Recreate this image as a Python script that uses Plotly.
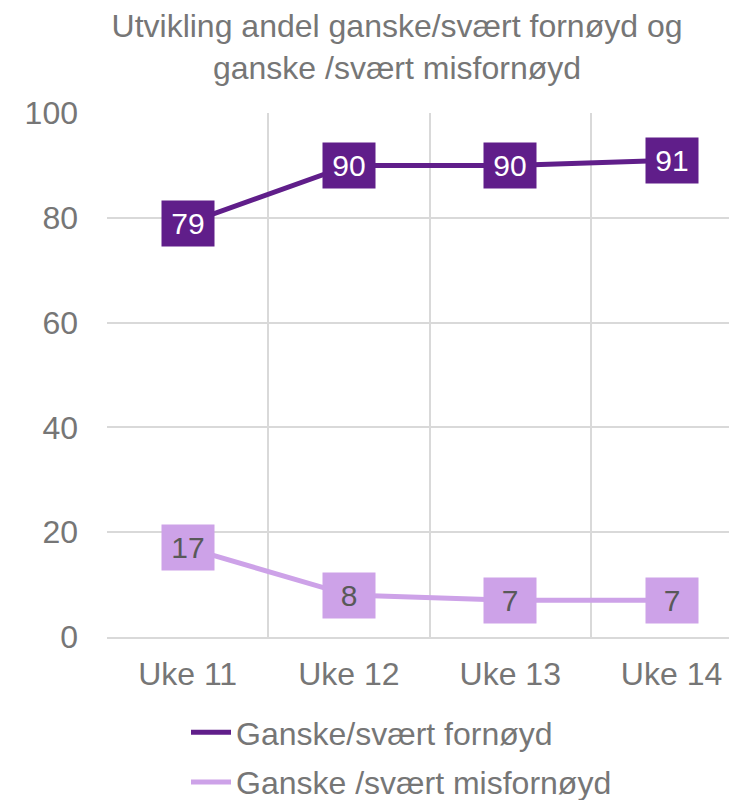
import plotly.graph_objects as go

weeks = ['Uke 11', 'Uke 12', 'Uke 13', 'Uke 14']
fornoyd = [79, 90, 90, 91]
misfornoyd = [17, 8, 7, 7]

colors = {
    'dark': '#601E8A',
    'light': '#CDA2E8',
    'grid': '#D9D9D9',
    'text': '#767676',
}

fig = go.Figure()

fig.add_trace(go.Scatter(
    x=weeks, y=fornoyd, name='Ganske/svært fornøyd', legendgroup='a',
    mode='lines', line=dict(color=colors['dark'], width=5),
    hoverinfo='skip'
))
fig.add_trace(go.Scatter(
    x=weeks, y=misfornoyd, name='Ganske /svært misfornøyd', legendgroup='b',
    mode='lines', line=dict(color=colors['light'], width=5),
    hoverinfo='skip'
))

# value labels as filled boxes on the points
for w, v in zip(weeks, fornoyd):
    fig.add_annotation(x=w, y=v, text=str(v), showarrow=False,
                       bgcolor=colors['dark'], width=52, height=45, borderpad=0,
                       font=dict(color='white', size=30))
for w, v in zip(weeks, misfornoyd):
    fig.add_annotation(x=w, y=v, text=str(v), showarrow=False,
                       bgcolor=colors['light'], width=52, height=45, borderpad=0,
                       font=dict(color='#595959', size=30))

fig.update_layout(
    width=737, height=800,
    margin=dict(l=99, r=8, t=105, b=171, autoexpand=False),
    paper_bgcolor='white', plot_bgcolor='white',
    font=dict(family='Liberation Sans, Arial', color=colors['text'], size=32),
    title=dict(
        text='Utvikling andel ganske/svært fornøyd og<br>ganske /svært misfornøyd',
        x=389 / 737, xref='container', xanchor='center',
        y=1 - 29 / 800, yref='container', yanchor='middle',
        font=dict(size=32, color=colors['text'])
    ),
    xaxis=dict(
        type='category', range=[-0.5, 3.406], tickson='boundaries',
        showgrid=True, gridcolor=colors['grid'], gridwidth=1.5,
        showline=True, linecolor=colors['grid'], linewidth=1.5,
        ticks='', ticklabelstandoff=8, tickangle=0, automargin=False,
        tickfont=dict(size=32, color=colors['text'])
    ),
    yaxis=dict(
        range=[0, 100], dtick=20,
        showgrid=True, gridcolor=colors['grid'], gridwidth=1.5,
        zeroline=False, showline=False, ticks='',
        ticklabelstandoff=28, automargin=False,
        tickfont=dict(size=32, color=colors['text'])
    ),
    showlegend=True,
    legend=dict(
        orientation='v',
        x=(178 - 99) / 630, xanchor='left', y=(629 - 697) / 524, yanchor='top',
        font=dict(size=32, color=colors['text']),
        tracegroupgap=5, itemwidth=40
    ),
)

fig.write_html('out.html', config={'displayModeBar': False})
